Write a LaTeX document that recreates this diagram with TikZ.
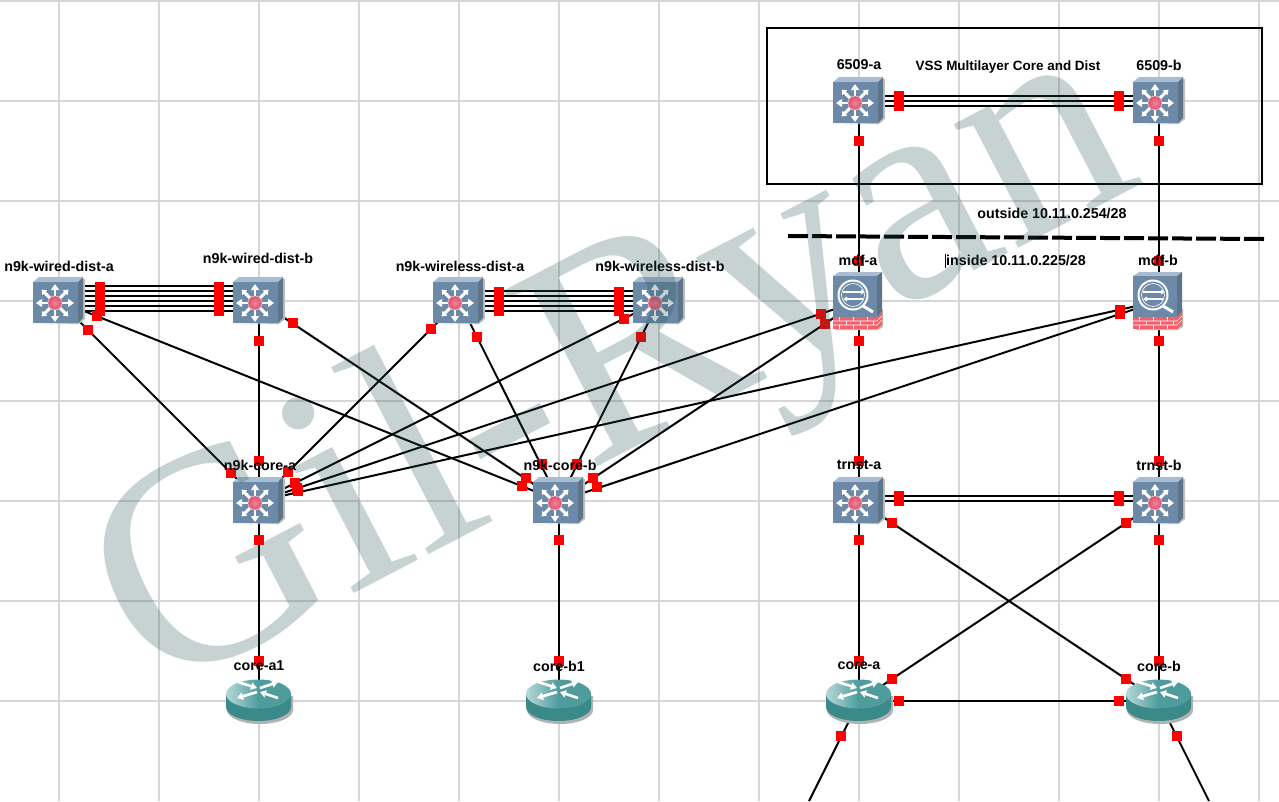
\documentclass[tikz,border=0pt]{standalone}
\usepackage{fontspec}
\setmainfont{Liberation Sans}
\newfontfamily\wmfont{Liberation Serif}
\usetikzlibrary{arrows.meta,calc}
\definecolor{gridc}{HTML}{D6D6D6}
\definecolor{swfront}{HTML}{6C89A8}
\definecolor{swtop}{HTML}{A8BDD2}
\definecolor{swside}{HTML}{5E7488}
\definecolor{hubc}{HTML}{E2506E}
\definecolor{rtop}{HTML}{4E9C9C}
\definecolor{rbody}{HTML}{3B8A8A}
\definecolor{brick}{HTML}{F4606A}
\definecolor{wm}{HTML}{235353}
\newcommand{\swicon}[1]{%
 \begin{scope}[shift={(#1)}]
  \fill[black!25] (-24,23) -- (20,23) -- (26,18) -- (26,-22) -- (24,-22) -- (24,17) -- (19,22) -- cycle;
  \fill[swtop] (-26,-19) -- (-20,-24) -- (24,-24) -- (19,-19) -- cycle;
  \fill[swside] (19,-19) -- (24,-24) -- (24,17) -- (19,22) -- cycle;
  \fill[swfront] (-26,-19) rectangle (19,22);
  \foreach \a in {0,90,180,270}
   \draw[white,line width=1.8pt,-{Triangle[width=6pt,length=4.5pt]}] (-4,2) -- ++(\a:19);
  \foreach \a in {45,135,225,315}
   \draw[white,line width=2.2pt,-{Triangle[width=5pt,length=3.5pt]}] (-4,2) -- ++(\a:19);
  \shade[inner color=hubc!70!white,outer color=hubc] (-4,2) circle[radius=7];
  \draw[white!70!hubc,line width=.4pt] (-4,2) circle[radius=7];
 \end{scope}}
\newcommand{\fwicon}[1]{%
 \begin{scope}[shift={(#1)}]
  \fill[black!25] (-24,29) -- (19,29) -- (24,26) -- (24,8) -- (20,8) -- cycle;
  \fill[swtop] (-26,-25) -- (-20,-29) -- (23,-29) -- (18,-25) -- cycle;
  \fill[swside] (18,-25) -- (23,-29) -- (23,21) -- (18,28) -- cycle;
  \fill[swfront] (-26,-25) rectangle (18,16);
  \fill[brick] (-26,16) rectangle (18,28);
  \fill[brick] (18,16) -- (23,10) -- (23,24) -- (18,28) -- cycle;
  \draw[white,line width=.5pt] (-26,20) -- (18,20) (-26,24) -- (18,24) (18,20) -- (23,15) (18,24) -- (23,19);
  \foreach \x in {-20,-6,8} \draw[white,line width=.5pt] (\x,16) -- (\x,20) (\x,24) -- (\x,28);
  \foreach \x in {-13,1,14} \draw[white,line width=.5pt] (\x,20) -- (\x,24);
  \draw[white,line width=1.5pt] (-6,-6) circle[radius=14.5];
  \draw[white,line width=.5pt] (-6,-6) circle[radius=11.5];
  \draw[white,line width=2.2pt] (4,5) -- (14,11);
  \draw[white,line width=1pt,-{Triangle[width=3.5pt,length=3pt]}] (-16,-9) -- (6,-9);
  \draw[white,line width=1pt,-{Triangle[width=3.5pt,length=3pt]}] (4,-2) -- (-16,-2);
 \end{scope}}
\newcommand{\rticon}[1]{%
 \begin{scope}[shift={(#1)}]
  \fill[black!30] (-32,-5) -- (-32,9) arc[start angle=180,end angle=0,x radius=33,y radius=14] -- (34,-5) -- cycle;
  \fill[rbody] (-33,-7) -- (-33,6) arc[start angle=180,end angle=0,x radius=32.5,y radius=14] -- (32,-7) -- cycle;
  \shade[left color=rtop!40!white,right color=rtop,middle color=rtop] (-0.5,-7) ellipse[x radius=32.5,y radius=14.5];
  \foreach \ax/\ay/\bx/\by in {-21/-19/-2/-13,1/-13/19/-19,-2/-9/-22/-3,19/-3/1/-9}
   \draw[white,line width=2pt,-{Triangle[width=5.5pt,length=4.5pt]}] (\ax,\ay) -- (\bx,\by);
 \end{scope}}
\tikzset{
 gridline/.style={gridc,line width=1.5pt},
 devsw/.style={rectangle,inner sep=0pt,minimum width=30pt,minimum height=30pt},
 link/.style={black,line width=1.5pt},
 port/.style={fill=red,draw=none,inner sep=0pt,minimum size=7.5pt},
 lab/.style={font=\fontsize{10.7pt}{11pt}\selectfont\bfseries,inner sep=0pt,text=black},
 frame/.style={draw=black,line width=1.1pt},
 cut/.style={black,line width=3pt,dash pattern=on 15pt off 3pt},
}
\begin{document}
\begin{tikzpicture}[x=.75pt,y=-.75pt]
\useasboundingbox (0,0) rectangle (1279,801);
\fill[white] (0,0) rectangle (1279,801);
% grid
\foreach \x in {59,159,...,1259} \draw[gridline] (\x,0) -- (\x,801);
\foreach \y in {1,101,...,701} \draw[gridline] (0,\y) -- (1279,\y);
% devices
\foreach \n/\x/\y in {wa/59/301,wb/259/301,la/459/301,lb/659/301,ca/259/501,cb/559/501,ta/859/501,tb/1159/501,va/859/101,vb/1159/101,ma/859/301,mb/1159/301,ra/259/701,rb/559/701,xa/859/701,xb/1159/701}
 \node[devsw] (\n) at (\x,\y) {};
\coordinate (freea) at (809,801);
\coordinate (freeb) at (1209,801);
% frame and divider
\coordinate (f1) at (767,28); \coordinate (f2) at (1262,184);
\draw[frame] (f1) rectangle (f2);
\coordinate (d1) at (788,236); \coordinate (d2) at (1264,239);
\draw[cut] (d1) -- (d2);
% links
\foreach \a/\b in {wa/ca,wa/cb,wb/ca,wb/cb,la/ca,la/cb,lb/ca,lb/cb,ma/ca,ma/cb,mb/ca,mb/cb,va/ma,vb/mb,ma/ta,mb/tb,ca/ra,cb/rb,ta/xa,tb/xb,ta/xb,tb/xa,xa/xb,xa/freea,xb/freeb}
 \draw[link] (\a) -- (\b);
\foreach \o in {11.25,7.5,3.75,0,-3.75,-7.5} \draw[link] ([yshift=\o pt]wa.center) -- ([yshift=\o pt]wb.center);
\foreach \o in {-7.5,-3.75,0,3.75,7.5} \draw[link] ([yshift=\o pt]la.center) -- ([yshift=\o pt]lb.center);
\foreach \o in {-3.75,0,3.75} \draw[link] ([yshift=\o pt]va.center) -- ([yshift=\o pt]vb.center);
\foreach \o in {3.75,0} \draw[link] ([yshift=\o pt]ta.center) -- ([yshift=\o pt]tb.center);
% icons
\foreach \n in {wa,wb,la,lb,ca,cb,ta,tb,va,vb} {\swicon{\n}}
\foreach \n in {ma,mb} {\fwicon{\n}}
\foreach \n in {ra,rb,xa,xb} {\rticon{\n}}
% ports
\foreach \p [count=\i] in {
 (88,330),(97,316),(231,473),(522,486),(259,341),(259,461),(293,323),(526,478),
 (431,329),(288,472),(477,337),(542,464),(624,319),(295,483),(641,337),(577,464),
 (821,314),(297,488),(825,324),(593,478),(1120,310),(298,491),(1120,314),(597,487),
 (859,141),(859,261),(1159,141),(1159,261),(859,341),(859,461),(1159,341),(1159,461),
 (259,540),(259,661),(559,540),(559,661),(859,540),(859,661),(1159,540),(1159,661),
 (892,523),(1126,679),(1126,523),(892,679),(899,701),(1119,701),(841,736),(1177,736),
 (100,287),(100,292),(100,297),(100,301),(100,306),(100,311),
 (219,287),(219,292),(219,297),(219,301),(219,306),(219,311),
 (499,292),(499,297),(499,302),(499,307),(499,311),
 (619,292),(619,297),(619,302),(619,307),(619,311),
 (899,96),(899,101),(899,106),(1119,96),(1119,101),(1119,106),
 (899,496),(899,501),(1119,496),(1119,501)}
 \node[port] (port\i) at \p {};
% labels
\foreach \t/\x/\y [count=\i] in {
 n9k-wired-dist-a/59/266,n9k-wired-dist-b/258/258,n9k-wireless-dist-a/460/266,n9k-wireless-dist-b/660/266,
 n9k-core-a/260/465,n9k-core-b/560/465,trnst-a/859/465,trnst-b/1159/465,
 6509-a/859/65,6509-b/1159/65,mdf-a/858/260,mdf-b/1158/260,
 core-a1/259/666,core-b1/559/666,core-a/859/666,core-b/1159/666,
 outside 10.11.0.254\slash 28/1052/213,inside 10.11.0.225\slash 28/1016/260}
 \node[lab] (label\i) at (\x,\y) {\t};
\node[lab,font=\fontsize{10.1pt}{11pt}\selectfont\bfseries] (title) at (1008,67) {VSS Multilayer Core and Dist};
% text cursor beside the inside label
\coordinate (c1) at (945.5,254); \coordinate (c2) at (945.5,268);
\draw[black!70!blue,line width=.7pt] (c1) -- (c2);
% watermark
\node[text=wm,text opacity=.25,rotate=27.5,anchor=base west,inner sep=0pt,font=\wmfont\fontsize{228pt}{228pt}\selectfont] (mark) at (154,698) {Gil-Ryan};
\end{tikzpicture}
\end{document}
